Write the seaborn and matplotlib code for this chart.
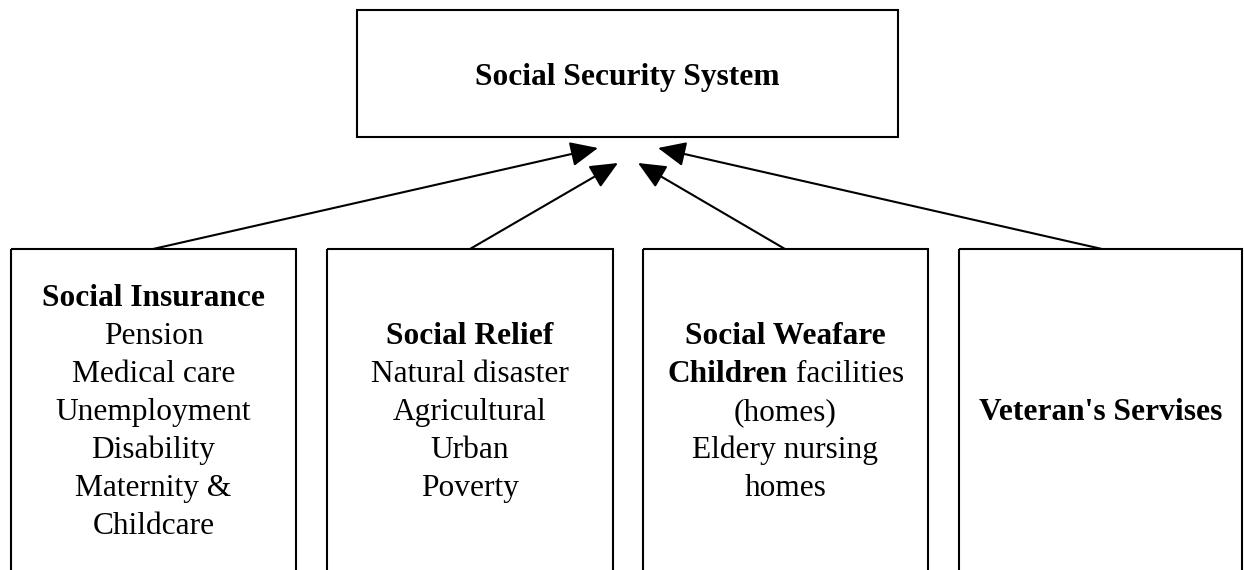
import matplotlib
matplotlib.use("Agg")
import matplotlib.pyplot as plt
from matplotlib.patches import Rectangle
import seaborn as sns

# ---- content ----
top_label = "Social Security System"
category_titles = ["Social Insurance", "Social Relief", "Social Weafare", "Veteran's Servises"]
insurance_items = ["Pension", "Medical care", "Unemployment", "Disability", "Maternity &", "Childcare"]
relief_items = ["Natural disaster", "Agricultural", "Urban", "Poverty"]
welfare_items = [("Children", " facilities"), "(homes)", "Eldery nursing", "homes"]
veteran_items = []
category_items = [insurance_items, relief_items, welfare_items, veteran_items]

# ---- layout (pixels) ----
W, H = 1244, 570
top_box = (357, 10, 898, 137)           # x0, y0, x1, y1
bottom_lefts = [11, 327, 643, 959]
bottom_rights = [296, 613, 928, 1242]
bottom_top = 249
first_baseline = [306, 344, 344, 420]
line_step = 38
arrow_starts = [(153, 249), (470, 249), (785, 249), (1102, 249)]
arrow_tips = [(598, 148), (618, 163), (638, 163), (658, 148)]
FS = 22.6
LW = 1.5

sns.set_theme(style="white")
plt.rcParams['font.family'] = ['Liberation Serif', 'DejaVu Serif']

fig = plt.figure(figsize=(W / 100, H / 100), dpi=100)
ax = fig.add_axes([0, 0, 1, 1])
ax.set_xlim(0, W)
ax.set_ylim(H, 0)
ax.axis("off")

# top box
x0, y0, x1, y1 = top_box
ax.add_patch(Rectangle((x0, y0), x1 - x0, y1 - y0, fill=False, lw=LW, ec="black",
                       joinstyle="miter"))
ax.text((x0 + x1) / 2, 85, top_label, ha="center", va="baseline",
        fontsize=FS, fontweight="bold", color="black")

renderer = fig.canvas.get_renderer()

for i, (l, r) in enumerate(zip(bottom_lefts, bottom_rights)):
    ax.add_patch(Rectangle((l, bottom_top), r - l, 400, fill=False, lw=LW, ec="black",
                           joinstyle="miter"))
    cx = (l + r) / 2
    y = first_baseline[i]
    ax.text(cx, y, category_titles[i], ha="center", va="baseline",
            fontsize=FS, fontweight="bold", color="black")
    for item in category_items[i]:
        y += line_step
        if isinstance(item, tuple):
            bold_part, reg_part = item
            tb = ax.text(0, y, bold_part, ha="left", va="baseline", fontsize=FS,
                         fontweight="bold", color="black")
            tr = ax.text(0, y, reg_part, ha="left", va="baseline", fontsize=FS,
                         color="black")
            wb = tb.get_window_extent(renderer).width
            wr = tr.get_window_extent(renderer).width
            start = cx - (wb + wr) / 2
            tb.set_x(start)
            tr.set_x(start + wb)
        else:
            ax.text(cx, y, item, ha="center", va="baseline", fontsize=FS, color="black")

for s, t in zip(arrow_starts, arrow_tips):
    ax.annotate("", xy=t, xytext=s,
                arrowprops=dict(arrowstyle="-|>,head_length=0.85,head_width=0.38",
                                mutation_scale=20, lw=LW, color="black",
                                shrinkA=0, shrinkB=0))

fig.savefig("out.png", dpi=100)
